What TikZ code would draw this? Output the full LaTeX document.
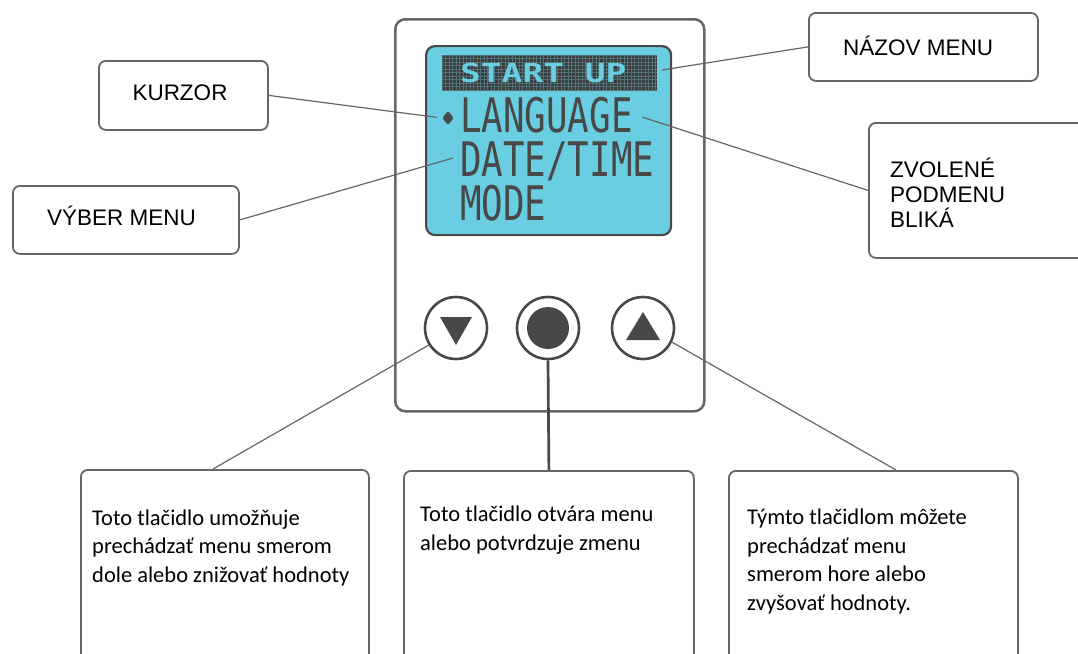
\documentclass[tikz,border=0pt]{standalone}
\usepackage{fontspec}
\usepackage{graphicx}
\usetikzlibrary{shapes.geometric}
\setmainfont{Liberation Sans}
\newfontfamily\calib{Carlito}
\newfontfamily\lcdfont{DejaVu Sans Mono}
\definecolor{lcd}{RGB}{106,206,227}
\definecolor{edge}{RGB}{102,102,102}
\definecolor{ink}{RGB}{72,72,72}
\begin{document}
\begin{tikzpicture}[x=1pt,y=-1pt,
  callout/.style={draw=edge, line width=1.8pt, rounded corners=7pt, fill=white, inner sep=0, anchor=north west},
  lab/.style={font=\fontsize{22.5}{25}\selectfont, text=black, inner sep=0},
  body/.style={font=\calib\fontsize{22.5}{28.5}\selectfont, align=left, anchor=base west, inner sep=0, text=black},
  lead/.style={draw=edge, line width=1.2pt},
  lcdtext/.style={font=\lcdfont\fontsize{35.8}{36}\selectfont, text=ink, anchor=base west, inner sep=0},
  btn/.style={circle, draw=ink, line width=2.6pt, minimum size=62, inner sep=0, fill=white},
]
\clip (0,0) rectangle (1078,653);
\fill[white] (0,0) rectangle (1078,653);

% device body
\node[draw=edge, line width=2.5pt, rounded corners=10pt, minimum width=309, minimum height=392, anchor=north west, inner sep=0] (dev) at (394,18) {};
% LCD
\node[draw=ink, fill=lcd, line width=2.2pt, rounded corners=9pt, minimum width=245, minimum height=189, anchor=north west, inner sep=0] (lcdscr) at (425,45) {};
% title band
\node[fill=ink!80!black, minimum width=215, minimum height=35, anchor=north west, inner sep=0] (band) at (442,55) {};
\foreach \gx in {0,...,61} {\draw[lcd!30!ink, line width=0.35pt] (442+\gx*3.5,55) -- (442+\gx*3.5,90);}
\foreach \gy in {0,...,10} {\draw[lcd!30!ink, line width=0.35pt] (442,55+\gy*3.5) -- (657,55+\gy*3.5);}
\node[font=\lcdfont\bfseries\fontsize{34.5}{35}\selectfont, text=lcd, anchor=base west, inner sep=0] (title) at (460,82) {\scalebox{1}[0.76]{START UP}};
% menu lines
\node[diamond, fill=ink, minimum width=12, minimum height=14, inner sep=0, rounded corners=2pt] (cursor) at (448,118) {};
\node[lcdtext] (lang) at (460,132) {\scalebox{1}[1.33]{LANGUAGE}};
\node[lcdtext] (date) at (460,176) {\scalebox{1}[1.33]{DATE/TIME}};
\node[lcdtext] (mode) at (460,220) {\scalebox{1}[1.33]{MODE}};
\coordinate (vsel) at (453,158);
\coordinate (zsel) at (642,117);
\coordinate (nsel) at (662,70);

% buttons
\node[btn] (bdown) at (456,328) {};
\fill[ink] (440,317) -- (472,317) -- (456,345) -- cycle;
\node[btn] (bmid) at (548,328) {};
\node[circle, fill=ink, minimum size=42, inner sep=0] (bmidin) at (548,328) {};
\node[btn] (bup) at (643,328) {};
\fill[ink] (626,340) -- (660,340) -- (643,312) -- cycle;

% top callouts
\node[callout, minimum width=169, minimum height=69] (kbox) at (98,60) {};
\node[lab, anchor=base] (ktext) at (180,100) {KURZOR};
\node[callout, minimum width=226, minimum height=68] (vbox) at (12,185) {};
\node[lab, anchor=base west] (vtext) at (47,225) {VÝBER MENU};
\node[callout, minimum width=229, minimum height=68] (nbox) at (808,12) {};
\node[lab, anchor=base west] (ntext) at (843,55) {NÁZOV MENU};
\node[callout, minimum width=260, minimum height=135] (zbox) at (868,122) {};
\node[lab, align=left, anchor=base west] (ztext) at (890,227) {ZVOLENÉ\\PODMENU\\BLIKÁ};

% top leads
\draw[lead] (kbox.east) -- (cursor.west) [shorten >=5pt];
\draw[lead] (vbox.east) -- (vsel);
\draw[lead] (nbox.west) -- (nsel);
\draw[lead] (zbox.west) -- (zsel);

% bottom callouts
\node[callout, minimum width=288, minimum height=220] (bl) at (80,469) {};
\node[callout, minimum width=290, minimum height=220] (bm) at (403,470) {};
\node[callout, minimum width=289, minimum height=220] (br) at (728,470) {};
\node[body] (bltext) at (92,582) {Toto tlačidlo umožňuje\\prechádzať menu smerom\\dole alebo znižovať hodnoty};
\node[body] (bmtext) at (420,550) {Toto tlačidlo otvára menu\\alebo potvrdzuje zmenu};
\node[body] (brtext) at (747,610) {Týmto tlačidlom môžete\\prechádzať menu\\smerom hore alebo\\zvyšovať hodnoty.};

% bottom leads
\coordinate (blt) at (213,469);
\coordinate (brt) at (896,470);
\draw[lead] (blt) -- (bdown.212);
\draw[lead] (brt) -- (bup.334);
\draw[draw=ink, line width=2.7pt] (bmid.south) -- (bm.north);
\end{tikzpicture}
\end{document}
